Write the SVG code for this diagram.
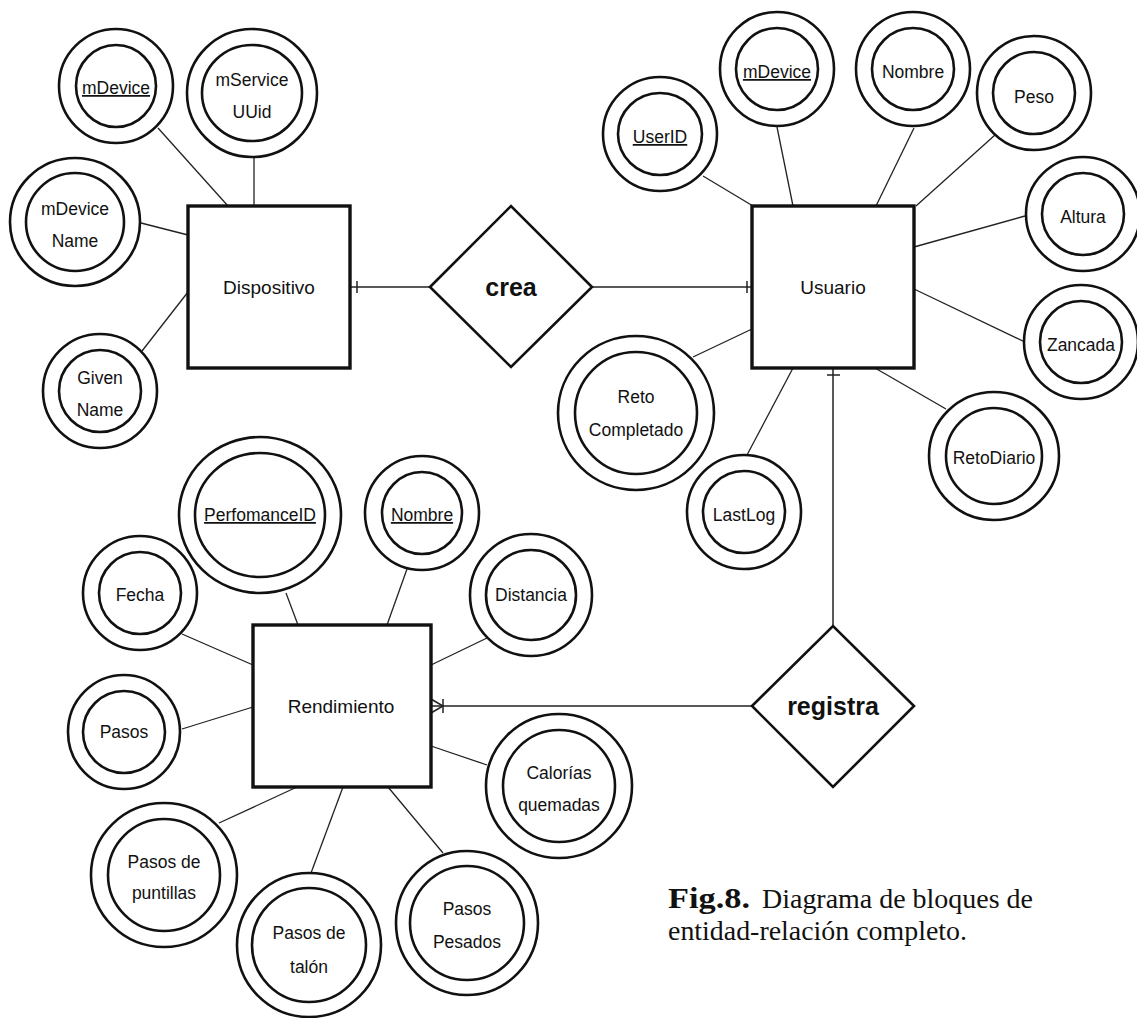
<svg xmlns="http://www.w3.org/2000/svg" width="1137" height="1018" viewBox="0 0 1137 1018">
  <style>
    .ent { fill: #fff; stroke: #111; stroke-width: 3.4; }
    .rel { fill: #fff; stroke: #111; stroke-width: 2.6; stroke-linejoin: miter; }
    .att { fill: #fff; stroke: #111; stroke-width: 2.6; }
    .conn line, .conn path { stroke: #222; stroke-width: 1.3; fill: none; }
    .lbl { font-family: "Liberation Sans", Arial, Helvetica, sans-serif; font-size: 17.5px; fill: #111; text-anchor: middle; }
    .elbl { font-family: "Liberation Sans", Arial, Helvetica, sans-serif; font-size: 19px; fill: #111; text-anchor: middle; }
    .rlbl { font-family: "Liberation Sans", Arial, Helvetica, sans-serif; font-size: 25px; font-weight: bold; fill: #111; text-anchor: middle; }
    .key { text-decoration: underline; }
    .cap { font-family: "Liberation Serif", "Times New Roman", serif; font-size: 27px; fill: #111; }
    .capb { font-family: "Liberation Serif", "Times New Roman", serif; font-size: 29px; font-weight: bold; fill: #111; }
  </style>

  <rect width="1137" height="1018" fill="#fff"/>

  <!-- connectors: attribute links and relationship lines -->
  <g id="connectors" class="conn">
    <!-- Dispositivo attributes -->
    <line x1="158" y1="128" x2="228" y2="206"/>
    <line x1="254" y1="157" x2="254" y2="206"/>
    <line x1="141" y1="223" x2="188" y2="235"/>
    <line x1="142" y1="351" x2="188" y2="292"/>
    <!-- Usuario attributes -->
    <line x1="703" y1="176" x2="753" y2="206"/>
    <line x1="777" y1="127" x2="793" y2="206"/>
    <line x1="914" y1="128" x2="876" y2="206"/>
    <line x1="995" y1="135" x2="916" y2="206"/>
    <line x1="1025" y1="216" x2="914" y2="247"/>
    <line x1="914" y1="289" x2="1025" y2="342"/>
    <line x1="875" y1="368" x2="946" y2="409"/>
    <line x1="752" y1="329" x2="693" y2="357"/>
    <line x1="793" y1="368" x2="747" y2="455"/>
    <!-- Rendimiento attributes -->
    <line x1="286" y1="593" x2="298" y2="625"/>
    <line x1="407" y1="569" x2="387" y2="625"/>
    <line x1="182" y1="634" x2="253" y2="665"/>
    <line x1="431" y1="665" x2="487" y2="638"/>
    <line x1="182" y1="729" x2="253" y2="707"/>
    <line x1="431" y1="746" x2="487" y2="765"/>
    <line x1="297" y1="787" x2="219" y2="823"/>
    <line x1="343" y1="787" x2="311" y2="873"/>
    <line x1="388" y1="787" x2="443" y2="853"/>
    <!-- Dispositivo - crea - Usuario -->
    <line x1="350" y1="287" x2="430" y2="287" style="stroke-width:1.5"/>
    <line x1="357" y1="281" x2="357" y2="293" style="stroke-width:1.5"/>
    <line x1="592" y1="287" x2="752" y2="287" style="stroke-width:1.5"/>
    <line x1="747" y1="281" x2="747" y2="293" style="stroke-width:1.5"/>
    <!-- Usuario - registra - Rendimiento -->
    <line x1="833" y1="368" x2="833" y2="626" style="stroke-width:1.5"/>
    <line x1="827" y1="375" x2="840" y2="375" style="stroke-width:1.5"/>
    <line x1="752" y1="706" x2="431" y2="706" style="stroke-width:1.5"/>
    <line x1="443" y1="699" x2="443" y2="713" style="stroke-width:1.5"/>
    <path d="M431 699 L443 706 L431 713" style="stroke-width:1.5"/>
  </g>

  <!-- entities -->
  <g id="dispositivo">
    <rect class="ent" x="188" y="206" width="162" height="162"/>
    <text class="elbl" x="269" y="294">Dispositivo</text>
  </g>
  <g id="usuario">
    <rect class="ent" x="752" y="206" width="162" height="162"/>
    <text class="elbl" x="833" y="294">Usuario</text>
  </g>
  <g id="rendimiento">
    <rect class="ent" x="253" y="625" width="178" height="162"/>
    <text class="elbl" x="341" y="713">Rendimiento</text>
  </g>

  <!-- relationships -->
  <g id="crea">
    <polygon class="rel" points="430,287 511,206 592,287 511,367"/>
    <text class="rlbl" x="511" y="296">crea</text>
  </g>
  <g id="registra">
    <polygon class="rel" points="752,706 833,626 914,706 833,787"/>
    <text class="rlbl" x="833" y="715">registra</text>
  </g>

  <!-- Dispositivo attributes -->
  <g id="att-disp-mdevice">
    <ellipse class="att" cx="116" cy="86" rx="57" ry="57"/>
    <ellipse class="att" cx="116" cy="86" rx="40" ry="41"/>
    <text class="lbl key" x="116" y="94">mDevice</text>
  </g>
  <g id="att-disp-mserviceuuid">
    <ellipse class="att" cx="252" cy="93" rx="65" ry="64"/>
    <ellipse class="att" cx="252" cy="93" rx="50" ry="48"/>
    <text class="lbl" x="252" y="86">mService</text>
    <text class="lbl" x="252" y="118">UUid</text>
  </g>
  <g id="att-disp-mdevicename">
    <ellipse class="att" cx="75" cy="222" rx="65" ry="64"/>
    <ellipse class="att" cx="75" cy="222" rx="49" ry="49"/>
    <text class="lbl" x="75" y="215">mDevice</text>
    <text class="lbl" x="75" y="247">Name</text>
  </g>
  <g id="att-disp-givenname">
    <ellipse class="att" cx="100" cy="391" rx="57" ry="57"/>
    <ellipse class="att" cx="100" cy="391" rx="41" ry="41"/>
    <text class="lbl" x="100" y="384">Given</text>
    <text class="lbl" x="100" y="416">Name</text>
  </g>

  <!-- Usuario attributes -->
  <g id="att-user-userid">
    <ellipse class="att" cx="660" cy="134" rx="57" ry="57"/>
    <ellipse class="att" cx="660" cy="134" rx="42" ry="41"/>
    <text class="lbl key" x="660" y="143">UserID</text>
  </g>
  <g id="att-user-mdevice">
    <ellipse class="att" cx="777" cy="69" rx="57" ry="57"/>
    <ellipse class="att" cx="777" cy="69" rx="41" ry="41"/>
    <text class="lbl key" x="777" y="78">mDevice</text>
  </g>
  <g id="att-user-nombre">
    <ellipse class="att" cx="913" cy="69" rx="57" ry="57"/>
    <ellipse class="att" cx="913" cy="69" rx="41" ry="41"/>
    <text class="lbl" x="913" y="78">Nombre</text>
  </g>
  <g id="att-user-peso">
    <ellipse class="att" cx="1034" cy="93" rx="57" ry="57"/>
    <ellipse class="att" cx="1034" cy="93" rx="41" ry="41"/>
    <text class="lbl" x="1034" y="103">Peso</text>
  </g>
  <g id="att-user-altura">
    <ellipse class="att" cx="1083" cy="214" rx="57" ry="57"/>
    <ellipse class="att" cx="1083" cy="214" rx="41" ry="41"/>
    <text class="lbl" x="1083" y="223">Altura</text>
  </g>
  <g id="att-user-zancada">
    <ellipse class="att" cx="1081" cy="342" rx="57" ry="57"/>
    <ellipse class="att" cx="1081" cy="342" rx="41" ry="41"/>
    <text class="lbl" x="1081" y="351">Zancada</text>
  </g>
  <g id="att-user-retodiario">
    <ellipse class="att" cx="994" cy="456" rx="65" ry="64"/>
    <ellipse class="att" cx="994" cy="456" rx="48" ry="48"/>
    <text class="lbl" x="994" y="464">RetoDiario</text>
  </g>
  <g id="att-user-retocompletado">
    <ellipse class="att" cx="636" cy="413" rx="78" ry="77"/>
    <ellipse class="att" cx="636" cy="413" rx="61" ry="61"/>
    <text class="lbl" x="636" y="403">Reto</text>
    <text class="lbl" x="636" y="436">Completado</text>
  </g>
  <g id="att-user-lastlog">
    <ellipse class="att" cx="744" cy="512" rx="57" ry="57"/>
    <ellipse class="att" cx="744" cy="512" rx="41" ry="41"/>
    <text class="lbl" x="744" y="521">LastLog</text>
  </g>

  <!-- Rendimiento attributes -->
  <g id="att-rend-perfomanceid">
    <ellipse class="att" cx="260" cy="515" rx="81" ry="78"/>
    <ellipse class="att" cx="260" cy="515" rx="65" ry="62"/>
    <text class="lbl key" x="260" y="521">PerfomanceID</text>
  </g>
  <g id="att-rend-nombre">
    <ellipse class="att" cx="422" cy="513" rx="57" ry="57"/>
    <ellipse class="att" cx="422" cy="513" rx="40" ry="41"/>
    <text class="lbl key" x="422" y="521">Nombre</text>
  </g>
  <g id="att-rend-fecha">
    <ellipse class="att" cx="140" cy="593" rx="57" ry="57"/>
    <ellipse class="att" cx="140" cy="593" rx="41" ry="41"/>
    <text class="lbl" x="140" y="601">Fecha</text>
  </g>
  <g id="att-rend-distancia">
    <ellipse class="att" cx="531" cy="595" rx="61" ry="61"/>
    <ellipse class="att" cx="531" cy="595" rx="45" ry="45"/>
    <text class="lbl" x="531" y="601">Distancia</text>
  </g>
  <g id="att-rend-pasos">
    <ellipse class="att" cx="124" cy="732" rx="56" ry="57"/>
    <ellipse class="att" cx="124" cy="732" rx="41" ry="41"/>
    <text class="lbl" x="124" y="738">Pasos</text>
  </g>
  <g id="att-rend-calorias">
    <ellipse class="att" cx="559" cy="786" rx="73" ry="72"/>
    <ellipse class="att" cx="559" cy="786" rx="56" ry="56"/>
    <text class="lbl" x="559" y="779">Calorías</text>
    <text class="lbl" x="559" y="811">quemadas</text>
  </g>
  <g id="att-rend-puntillas">
    <ellipse class="att" cx="164" cy="875" rx="73" ry="72"/>
    <ellipse class="att" cx="164" cy="875" rx="56" ry="56"/>
    <text class="lbl" x="164" y="868">Pasos de</text>
    <text class="lbl" x="164" y="899">puntillas</text>
  </g>
  <g id="att-rend-talon">
    <ellipse class="att" cx="309" cy="945" rx="72" ry="72"/>
    <ellipse class="att" cx="309" cy="945" rx="57" ry="57"/>
    <text class="lbl" x="309" y="939">Pasos de</text>
    <text class="lbl" x="309" y="973">talón</text>
  </g>
  <g id="att-rend-pesados">
    <ellipse class="att" cx="467" cy="923" rx="71" ry="72"/>
    <ellipse class="att" cx="467" cy="923" rx="57" ry="57"/>
    <text class="lbl" x="467" y="915">Pasos</text>
    <text class="lbl" x="467" y="948">Pesados</text>
  </g>

  <!-- figure caption -->
  <g id="caption">
    <text class="capb" x="668" y="908" textLength="82" lengthAdjust="spacingAndGlyphs">Fig.8.</text>
    <text class="cap" x="762" y="908" textLength="271" lengthAdjust="spacingAndGlyphs">Diagrama de bloques de</text>
    <text class="cap" x="668" y="940" textLength="299" lengthAdjust="spacingAndGlyphs">entidad-relación completo.</text>
  </g>
</svg>
